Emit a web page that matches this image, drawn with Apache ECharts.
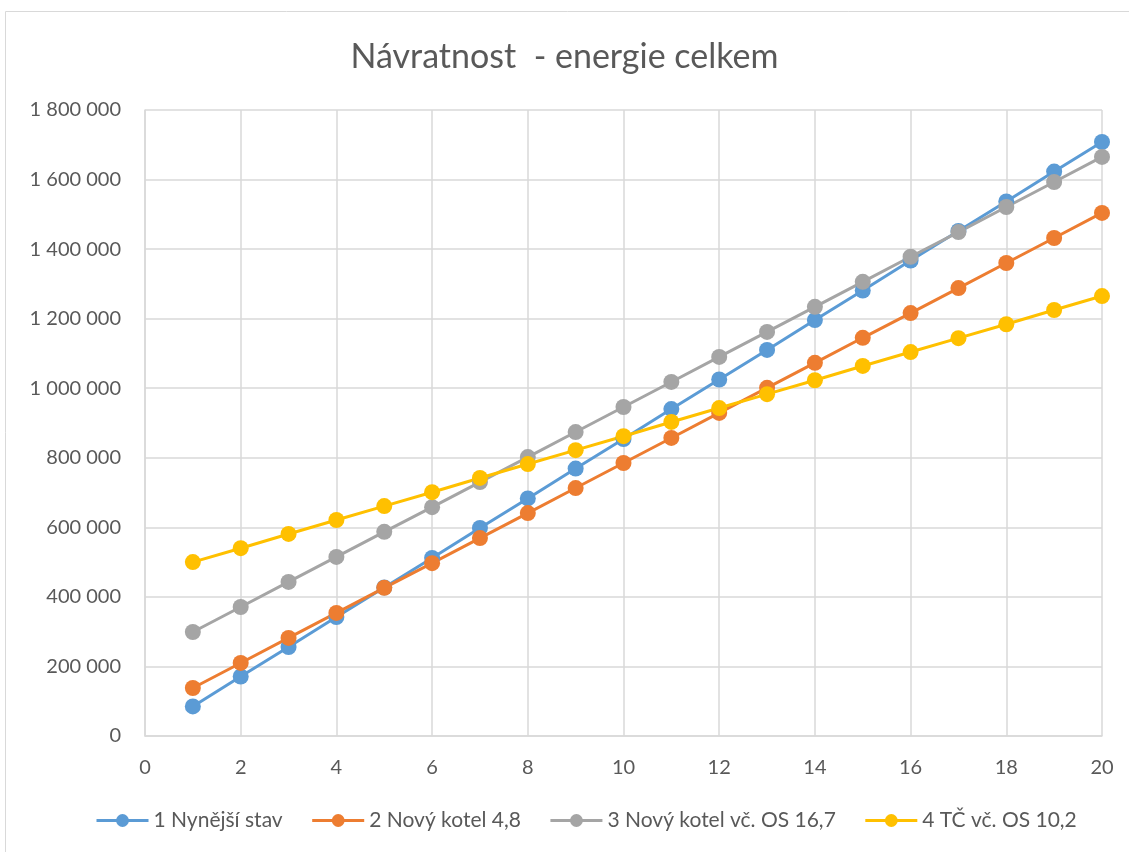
<!DOCTYPE html>
<html>
<head>
<meta charset="utf-8">
<script src="https://cdn.jsdelivr.net/npm/echarts@6/dist/echarts.min.js"></script>
<style>
html,body{margin:0;padding:0;background:#fff;}
#chart{width:1129px;height:852px;}
</style>
</head>
<body>
<div id="chart"></div>
<script>
const years = [1,2,3,4,5,6,7,8,9,10,11,12,13,14,15,16,17,18,19,20];
const seriesNames = ['1 Nynější stav','2 Nový kotel 4,8','3 Nový kotel vč. OS 16,7','4 TČ vč. OS 10,2'];
const s1 = [85000,171000,256000,342000,427000,512000,598000,683000,769000,854000,940000,1025000,1110000,1196000,1281000,1367000,1452000,1537000,1623000,1708000];
const s2 = [138000,210000,282000,354000,426000,497000,569000,641000,713000,785000,857000,929000,1001000,1073000,1145000,1216000,1288000,1360000,1432000,1504000];
const s3 = [299000,371000,443000,515000,587000,658000,730000,802000,874000,946000,1018000,1090000,1162000,1234000,1306000,1378000,1449000,1521000,1593000,1665000];
const s4 = [500000,540000,581000,621000,661000,701000,742000,782000,822000,862000,903000,943000,983000,1023000,1064000,1104000,1144000,1184000,1225000,1265000];
const colors = ['#5B9BD5','#ED7D31','#A5A5A5','#FFC000'];
const allValues = [s1,s2,s3,s4];

const FONT = 'Lato';
const textColor = '#595959';
const gridColor = '#D9D9D9';

function fmt(v){ return String(v).replace(/\B(?=(\d{3})+(?!\d))/g,' '); }

const chart = echarts.init(document.getElementById('chart'), null, {renderer:'canvas'});
chart.setOption({
  animation:false,
  color: colors,
  graphic:[{
    type:'rect', shape:{x:5.5,y:11.5,width:1130,height:850},
    style:{fill:'none',stroke:'#D9D9D9',lineWidth:1}, silent:true, z:-10
  }],
  title:{
    text:'Návratnost  - energie celkem',
    left:'center', top:35,
    textStyle:{fontFamily:FONT,fontSize:34,fontWeight:'normal',color:textColor}
  },
  legend:{
    bottom:16, left:90,
    itemWidth:52, itemHeight:16, itemGap:28,
    lineStyle:{width:3},
    textStyle:{fontFamily:FONT,fontSize:21,color:textColor},
    data:seriesNames
  },
  grid:{left:145,right:27,top:110,bottom:116,containLabel:false},
  xAxis:{
    type:'value', min:0, max:20, interval:2,
    axisLine:{show:true,lineStyle:{color:gridColor,width:1.5}},
    axisTick:{show:false},
    splitLine:{show:true,lineStyle:{color:gridColor,width:1.5}},
    axisLabel:{fontFamily:FONT,fontSize:20,color:textColor,margin:22}
  },
  yAxis:{
    type:'value', min:0, max:1800000, interval:200000,
    axisLine:{show:true,lineStyle:{color:gridColor,width:1.5}},
    axisTick:{show:false},
    splitLine:{show:true,lineStyle:{color:gridColor,width:1.5}},
    axisLabel:{fontFamily:FONT,fontSize:20,color:textColor,margin:24,formatter:fmt}
  },
  series: seriesNames.map((name,i)=>({
    name:name, type:'line',
    data: years.map((x,j)=>[x, allValues[i][j]]),
    symbol:'circle', symbolSize:16,
    lineStyle:{width:3,color:colors[i]},
    itemStyle:{color:colors[i]}
  }))
});
</script>
</body>
</html>
